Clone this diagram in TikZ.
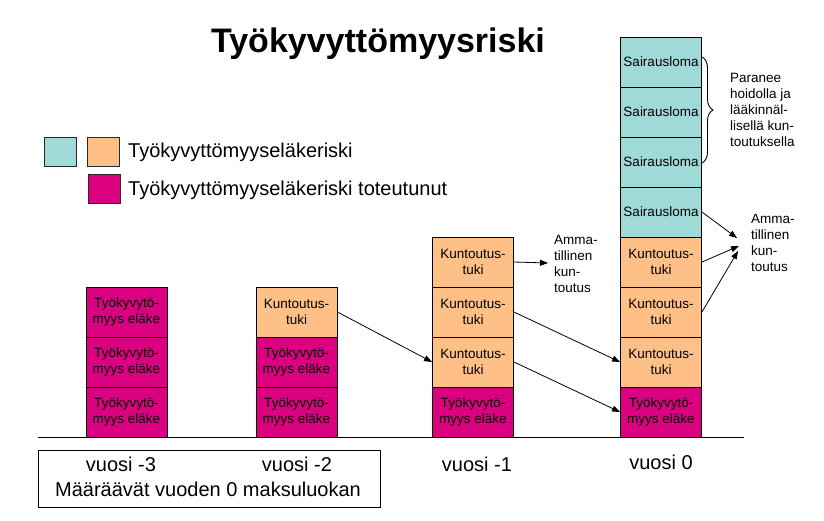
\documentclass[tikz,border=0pt]{standalone}
\usepackage{fontspec}
\setmainfont{Liberation Sans}
\usetikzlibrary{arrows.meta,decorations.pathreplacing}
\definecolor{teal1}{RGB}{160,218,216}
\definecolor{orange1}{RGB}{255,192,136}
\definecolor{magenta1}{RGB}{218,0,128}
\definecolor{edge1}{RGB}{40,40,40}
\begin{document}
\begin{tikzpicture}[x=1pt,y=-1pt,
  cell/.style={draw=black,line width=0.9pt,minimum width=81pt,minimum height=50pt,inner sep=0pt,align=center,font=\fontsize{13.5}{16}\selectfont},
  sick/.style={cell,fill=teal1},
  rehab/.style={cell,fill=orange1},
  pension/.style={cell,fill=magenta1},
  conn/.style={line width=0.8pt,-{Triangle[length=8pt,width=6pt]}},
  note/.style={font=\fontsize{13.5}{16}\selectfont,align=left,inner sep=0pt,anchor=west},
  big/.style={font=\fontsize{20}{24}\selectfont,inner sep=0pt},
  legsq/.style={draw=edge1,line width=1pt,minimum width=32pt,minimum height=29pt,inner sep=0pt}]
\useasboundingbox (0,0) rectangle (824,520);

% title
\node[font=\fontsize{34}{40}\selectfont\bfseries,inner sep=0pt,anchor=base] (title) at (378,52) {Työkyvyttömyysriski};

% legend
\node[legsq,fill=teal1] (lg1) at (60.5,151.5) {};
\node[legsq,fill=orange1] (lg2) at (103.5,151.5) {};
\node[legsq,fill=magenta1] (lg3) at (104,189) {};
\node[big,anchor=west] (lt1) at (128,152) {Työkyvyttömyyseläkeriski};
\node[big,anchor=west] (lt2) at (128,190) {Työkyvyttömyyseläkeriski toteutunut};

% column vuosi -3
\node[pension] (c1a) at (126.5,312) {Työkyvytö-\\myys eläke};
\node[pension] (c1b) at (126.5,362) {Työkyvytö-\\myys eläke};
\node[pension] (c1c) at (126.5,412) {Työkyvytö-\\myys eläke};

% column vuosi -2
\node[rehab] (c2a) at (296.5,312) {Kuntoutus-\\tuki};
\node[pension] (c2b) at (296.5,362) {Työkyvytö-\\myys eläke};
\node[pension] (c2c) at (296.5,412) {Työkyvytö-\\myys eläke};

% column vuosi -1
\node[rehab] (c3a) at (473,262) {Kuntoutus-\\tuki};
\node[rehab] (c3b) at (473,312) {Kuntoutus-\\tuki};
\node[rehab] (c3c) at (473,362) {Kuntoutus-\\tuki};
\node[pension] (c3d) at (473,412) {Työkyvytö-\\myys eläke};

% column vuosi 0
\node[sick] (c4a) at (661,62) {Sairausloma};
\node[sick] (c4b) at (661,112) {Sairausloma};
\node[sick] (c4c) at (661,162) {Sairausloma};
\node[sick] (c4d) at (661,212) {Sairausloma};
\node[rehab] (c4e) at (661,262) {Kuntoutus-\\tuki};
\node[rehab] (c4f) at (661,312) {Kuntoutus-\\tuki};
\node[rehab] (c4g) at (661,362) {Kuntoutus-\\tuki};
\node[pension] (c4h) at (661,412) {Työkyvytö-\\myys eläke};

% base line
\coordinate (bl) at (38,437);
\coordinate (br) at (744,437);
\draw[line width=1pt] (bl) -- (br);

% bottom box and year labels
\node[draw=black,line width=1pt,minimum width=342pt,minimum height=57pt,inner sep=0pt] (yearbox) at (209,479) {};
\node[big,anchor=base] (y3) at (121,471) {vuosi -3};
\node[big,anchor=base] (y2) at (297,471) {vuosi -2};
\node[big,anchor=base] (mk) at (208,496) {Määräävät vuoden 0 maksuluokan};
\node[big,anchor=base] (y1) at (477,471) {vuosi -1};
\node[big,anchor=base] (y0) at (661,469) {vuosi 0};

% notes
\node[note] (am1) at (554,264) {Amma-\\tillinen\\kun-\\toutus};
\node[note] (am2) at (751,243) {Amma-\\tillinen\\kun-\\toutus};
\node[note] (par) at (730,110) {Paranee\\hoidolla ja\\lääkinnäl-\\lisellä kun-\\toutuksella};

% brace
\coordinate (brt) at (702,57);
\coordinate (brb) at (702,163);
\draw[decorate,decoration={brace,amplitude=11pt},line width=0.9pt] (brt) -- (brb);

% arrow targets
\coordinate (t1) at (548,263);
\coordinate (t2) at (737,238);
\coordinate (t3) at (739,246);
\coordinate (t4) at (738,251);

% connectors
\draw[conn] (c2a.east) -- (c3c.west);
\draw[conn] (c3b.east) -- (c4g.west);
\draw[conn] (c3c.east) -- (c4h.west);
\draw[conn] (c3a.east) -- (t1);
\draw[conn] (c4d.east) -- (t2);
\draw[conn] (c4e.east) -- (t3);
\draw[conn] (c4f.east) -- (t4);
\end{tikzpicture}
\end{document}
